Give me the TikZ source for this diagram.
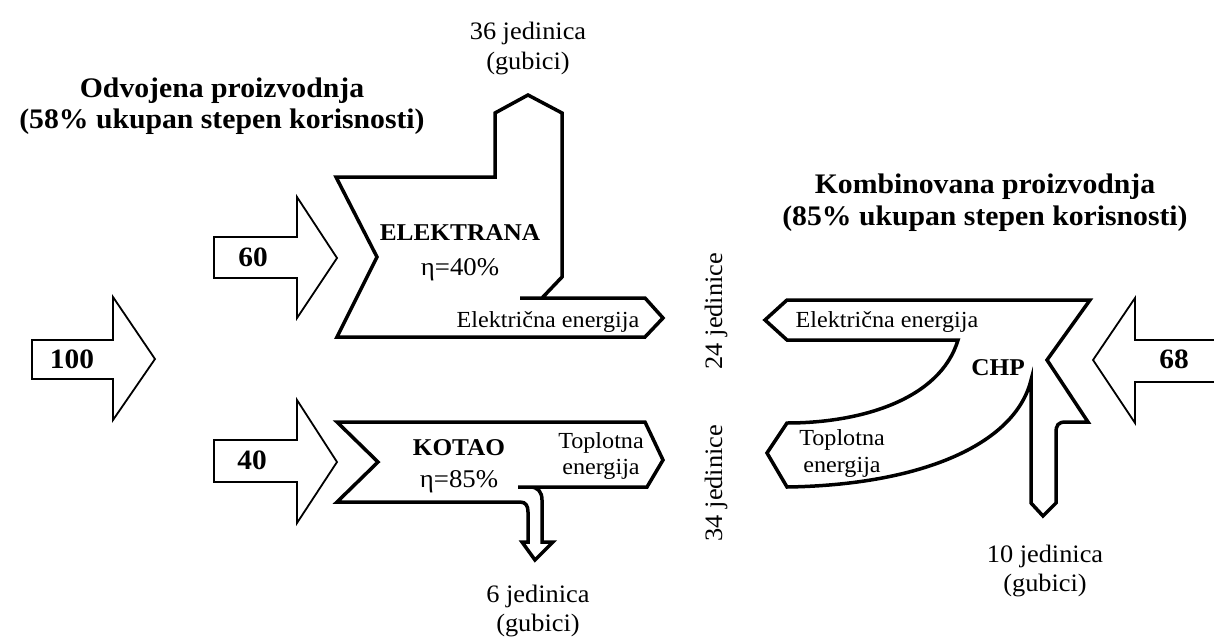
\documentclass[tikz,border=0pt]{standalone}
\usepackage{fontspec}
\setmainfont{Liberation Serif}[FakeStretch=1.05]

\begin{document}
\begin{tikzpicture}[x=1pt, y=-1pt,
  flow/.style={draw=black, line width=3.5pt, fill=white},
  inarrow/.style={draw=black, line width=1.8pt, fill=white},
  title/.style={font=\fontsize{28.3}{31}\selectfont\bfseries, inner sep=0pt, anchor=base},
  plant/.style={font=\fontsize{24.1}{28}\selectfont\bfseries, inner sep=0pt, anchor=base},
  eta/.style={font=\fontsize{25.5}{28}\selectfont, inner sep=0pt, anchor=base},
  qty/.style={font=\fontsize{28}{30}\selectfont\bfseries, inner sep=0pt, anchor=base},
  lbl/.style={font=\fontsize{23}{26}\selectfont, inner sep=0pt, anchor=base},
  loss/.style={font=\fontsize{25.1}{29}\selectfont, inner sep=0pt, anchor=base},
]
\useasboundingbox (0,0) rectangle (1214,642);

% Input arrows
\draw[inarrow] (32,340) -- (113,340) -- (113,297) -- (155,359) -- (113,420) -- (113,379) -- (32,379) -- cycle;
\draw[inarrow] (214,237) -- (297,237) -- (297,197) -- (337,258) -- (297,318) -- (297,278) -- (214,278) -- cycle;
\draw[inarrow] (214,440) -- (297,440) -- (297,400) -- (337,462) -- (297,523) -- (297,482) -- (214,482) -- cycle;
\draw[inarrow] (1214,340) -- (1135,340) -- (1135,298) -- (1093,360) -- (1135,423) -- (1135,382) -- (1214,382);

% Elektrana
\draw[flow] (520,298) -- (645,298) -- (663,318) -- (645,337) -- (337,337) -- (377,257)
  -- (336,177) -- (495,177) -- (495,113) -- (528,95) -- (562,113) -- (562,277) -- (542,298);

% Kotao
\draw[flow] (518,487) -- (647,487) -- (663,460) -- (645,422) -- (337,422) -- (378,462)
  -- (337,502) -- (520,502) .. controls (526,502) and (528,506) .. (528,512) -- (528,542)
  -- (522,542) -- (535,560) -- (553,542) -- (542,542) -- (542,500)
  .. controls (542,492) and (538,487) .. (530,487);

% CHP
\draw[flow] (1031,380) -- (1031,503) -- (1043,516) -- (1056,503) -- (1056,433)
  .. controls (1056,425) and (1058,422) .. (1066,422) -- (1088,422) -- (1047,360)
  -- (1090,300) -- (787,300) -- (765,320) -- (787,340) -- (958,340)
  .. controls (940,400) and (860,423) .. (787,423) -- (767,453) -- (787,487)
  .. controls (920,485) and (1015,445) .. (1031,380) -- cycle;

% Titles
\node[title] (sep1) at (222,97) {Odvojena proizvodnja};
\node[title] (sep2) at (222,128) {(58\% ukupan stepen korisnosti)};
\node[title] (comb1) at (985,193) {Kombinovana proizvodnja};
\node[title] (comb2) at (985,225) {(85\% ukupan stepen korisnosti)};

% Quantities
\node[qty] (q100) at (72,368) {100};
\node[qty] (q60) at (253,266) {60};
\node[qty] (q40) at (252,469) {40};
\node[qty] (q68) at (1174,368) {68};

% Plants
\node[plant] (elektrana) at (460,240) {ELEKTRANA};
\node[eta] (eta40) at (460,275) {η=40\%};
\node[plant] (kotao) at (459,455) {KOTAO};
\node[eta] (eta85) at (459,487) {η=85\%};
\node[plant] (chp) at (998,375) {CHP};

% Outputs
\node[lbl] (el1) at (548,327) {Električna energija};
\node[lbl] (top1) at (601,448) {Toplotna};
\node[lbl] (top1b) at (601,474) {energija};
\node[lbl] (el2) at (887,327) {Električna energija};
\node[lbl] (top2) at (842,445) {Toplotna};
\node[lbl] (top2b) at (842,472) {energija};

% Losses
\node[loss] (l36) at (528,40) {36 jedinica};
\node[loss] (l36b) at (528,70) {(gubici)};
\node[loss] (l6) at (538,602) {6 jedinica};
\node[loss] (l6b) at (538,631) {(gubici)};
\node[loss] (l10) at (1045,562) {10 jedinica};
\node[loss] (l10b) at (1045,591) {(gubici)};

% Units
\node[loss, anchor=center, rotate=90] (u24) at (716,311) {24 jedinice};
\node[loss, anchor=center, rotate=90] (u34) at (716,483) {34 jedinice};

\end{tikzpicture}
\end{document}
